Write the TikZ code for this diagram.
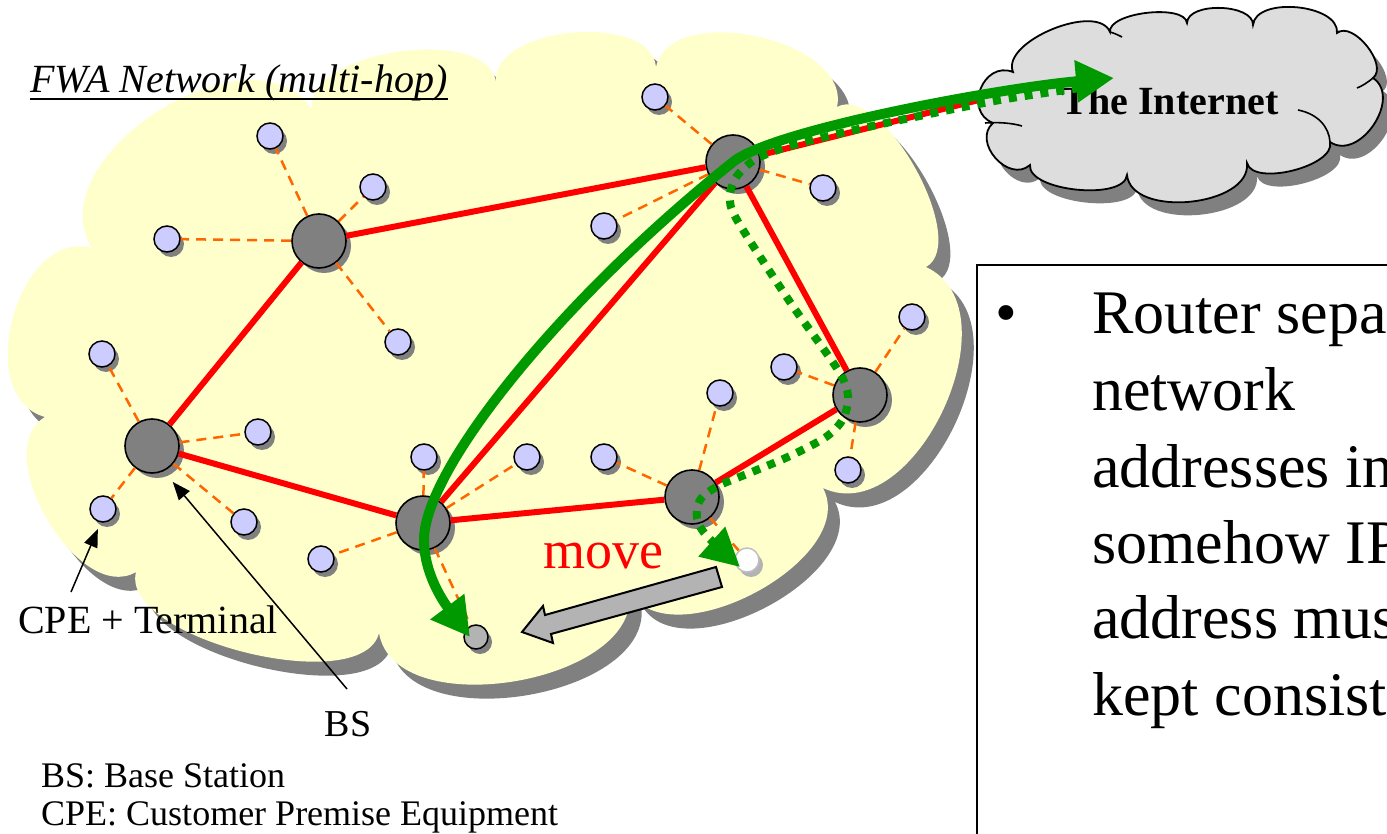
\documentclass[tikz,border=0pt]{standalone}
\usepackage{fontspec}
\setmainfont{Liberation Serif}
\usetikzlibrary{arrows.meta,shadows}

\definecolor{fwayellow}{HTML}{FFFFCC}
\definecolor{dropgray}{HTML}{808080}
\definecolor{cpefill}{HTML}{CCCCFF}
\definecolor{bsfill}{HTML}{808080}
\definecolor{linkred}{HTML}{FF0000}
\definecolor{wireorange}{HTML}{FF6600}
\definecolor{pathgreen}{HTML}{009900}
\definecolor{movegray}{HTML}{B3B3B3}
\definecolor{netgray}{HTML}{DDDDDD}
\definecolor{ghost}{HTML}{C0C0C0}

% outline of the FWA cloud (cusps joined by bulging lobes)
\newcommand{\fwaoutline}{(45,417)
 to[bend left=90,looseness=1.12] (92,248)
 to[bend left=90,looseness=1.06] (312,110)
 to[bend left=90,looseness=0.82] (496,82)
 to[bend left=90,looseness=0.89] (656,67)
 to[bend left=90,looseness=0.95] (837,107)
 to[bend left=90,looseness=0.72] (926,267)
 to[bend left=90,looseness=1.06] (823,488)
 to[bend left=90,looseness=0.95] (629,590)
 to[bend left=90,looseness=0.95] (379,633)
 to[bend left=90,looseness=0.70] (136,572)
 to[bend left=90,looseness=0.95] (45,417) -- cycle}

% outline of the Internet cloud
\newcommand{\inetoutline}{(1013,72)
 to[bend left=90,looseness=0.80] (1110,32)
 to[bend left=90,looseness=0.65] (1187,23)
 to[bend left=90,looseness=0.83] (1253,25)
 to[bend left=90,looseness=0.88] (1337,33)
 to[bend left=90,looseness=0.90] (1373,78)
 to[bend left=90,looseness=1.18] (1330,142)
 to[bend left=90,looseness=0.74] (1247,163)
 to[bend left=90,looseness=0.93] (1127,175)
 to[bend left=90,looseness=0.69] (1030,165)
 to[bend left=90,looseness=1.30] (993,123)
 to[bend left=90,looseness=1.50] (1013,72) -- cycle}

\begin{document}
\begin{tikzpicture}[x=1pt,y=-1pt,
  bsnode/.style={circle, draw=black, line width=1.6pt, fill=bsfill,
    minimum size=54pt, inner sep=0pt,
    drop shadow={shadow xshift=5pt, shadow yshift=-5pt, fill=dropgray, opacity=1}},
  cpenode/.style={circle, draw=black, line width=1.5pt, fill=cpefill,
    minimum size=26pt, inner sep=0pt,
    drop shadow={shadow xshift=4pt, shadow yshift=-5pt, fill=dropgray, opacity=1}},
  movednode/.style={cpenode, fill=movegray, minimum size=24pt},
  ghostnode/.style={circle, draw=ghost, line width=1.5pt, fill=white,
    minimum size=24pt, inner sep=0pt,
    drop shadow={shadow xshift=4pt, shadow yshift=-5pt, fill=movegray, opacity=1}},
  wire/.style={draw=wireorange, line width=2.5pt, dash pattern=on 10pt off 7pt},
  link/.style={draw=linkred, line width=6pt},
  route/.style={draw=pathgreen, line width=10pt,
    {Triangle[length=38pt,width=40pt]}-{Triangle[length=38pt,width=40pt]}},
  altroute/.style={draw=pathgreen, line width=8pt, dash pattern=on 8pt off 8pt,
    -{Triangle[length=38pt,width=38pt]}},
  callout/.style={draw=black, line width=1.5pt, -{Triangle[length=18pt,width=14pt]}},
  lbl/.style={inner sep=0pt, font=\fontsize{40}{48}\selectfont},
  bodytext/.style={inner sep=0pt, anchor=base west, font=\fontsize{62}{74}\selectfont}
]
\useasboundingbox (0,0) rectangle (1387,834);
\clip (0,0) rectangle (1387,834);

% FWA cloud with its shadow
\fill[dropgray, shift={(12,14)}] \fwaoutline;
\fill[fwayellow] \fwaoutline;

% base stations
\node[bsnode] (B1) at (319,241) {};
\node[bsnode] (B2) at (152,446) {};
\node[bsnode] (B3) at (423,523) {};
\node[bsnode] (B4) at (733,162) {};
\node[bsnode] (B5) at (860,395) {};
\node[bsnode] (B6) at (692,497) {};

% customer premise equipment
\node[cpenode] (c1)  at (270,136) {};
\node[cpenode] (c2)  at (373,187) {};
\node[cpenode] (c3)  at (167,239) {};
\node[cpenode] (c4)  at (398,342) {};
\node[cpenode] (c5)  at (102,354) {};
\node[cpenode] (c6)  at (258,432) {};
\node[cpenode] (c7)  at (103,509) {};
\node[cpenode] (c8)  at (244,522) {};
\node[cpenode] (c9)  at (321,559) {};
\node[cpenode] (c10) at (424,457) {};
\node[cpenode] (c11) at (527,457) {};
\node[cpenode] (c12) at (604,457) {};
\node[cpenode] (c13) at (720,393) {};
\node[cpenode] (c14) at (784,367) {};
\node[cpenode] (c15) at (912,317) {};
\node[cpenode] (c16) at (848,470) {};
\node[cpenode] (c17) at (823,188) {};
\node[cpenode] (c18) at (604,226) {};
\node[cpenode] (c19) at (655,97)  {};
\node[movednode] (mv) at (476,637) {};
\node[ghostnode] (wt) at (747,560) {};

% radio access links
\foreach \s/\t in {B1/c1,B1/c2,B1/c3,B1/c4,B2/c5,B2/c6,B2/c7,B2/c8,
                   B3/c9,B3/c10,B3/c11,B3/mv,B6/c12,B6/c13,B6/wt,
                   B5/c14,B5/c15,B5/c16,B4/c17,B4/c18,B4/c19}
  \draw[wire] (\s) -- (\t);

% backbone links between base stations
\coordinate (inetport) at (979,100);
\foreach \s/\t in {B1/B2,B1/B4,B2/B3,B3/B4,B3/B6,B6/B5,B5/B4}
  \draw[link] (\s) -- (\t);
\draw[link] (B4) -- (inetport);

% the Internet
\fill[dropgray, shift={(10,13)}] \inetoutline;
\filldraw[fill=netgray, draw=black, line width=1.8pt] \inetoutline;
\draw[line width=1.6pt] (1298,110) .. controls (1318,114) and (1329,127) .. (1330,142);
\draw[line width=1.6pt] (985,123) .. controls (998,122) and (1012,123) .. (1022,126);
\draw[line width=1.6pt] (1373,78) .. controls (1367,83) and (1362,86) .. (1357,88);
\draw[line width=1.6pt] (1110,32) .. controls (1114,33) and (1118,35) .. (1122,37);
\node[inner sep=0pt, anchor=base, font=\bfseries\fontsize{40}{48}\selectfont] (inet) at (1170,115) {The Internet};

% route before and after the move
\draw[altroute] plot[smooth, tension=0.5] coordinates {(1080,88) (1000,100) (910,118) (850,131) (790,146) (756,159) (737,176) (730,196) (737,220) (790,302) (838,370) (848,396) (843,419) (826,437) (790,456) (752,472) (718,486) (700,500) (697,518) (706,535) (740,567)};
\coordinate (rtstart) at (470,637);
\coordinate (rtbend) at (424,540);
\coordinate (rtend) at (1114,78);
\draw[route] (rtstart) .. controls (452,613) and (424,580) .. (rtbend)
  .. controls (424,470) and (560,300) .. (B4.center)
  .. controls (772,130) and (1000,88) .. (rtend);

% movement of the terminal
\filldraw[fill=movegray, draw=black, line width=2pt]
  (716,567) -- (722,587) -- (551,634) -- (553,643) -- (522,632)
  -- (543,606) -- (545,615) -- cycle;
\node[inner sep=0pt, anchor=base, text=linkred, font=\fontsize{54}{64}\selectfont] (mvlbl) at (603,568) {move};

% labels
\node[inner sep=0pt, anchor=base west, font=\itshape\fontsize{40}{48}\selectfont] (fwa) at (30,93) {FWA Network (multi-hop)};
\draw[line width=2.5pt] ([yshift=-6pt]fwa.base west) -- ([yshift=-6pt]fwa.base east);

\node[lbl, anchor=base west] (cpelbl) at (18,633) {CPE + Terminal};
\node[lbl, anchor=base, font=\fontsize{38}{46}\selectfont] (bslbl) at (348,736) {BS};
\coordinate (cpetail) at (71,592);
\coordinate (bstail) at (347,689);
\draw[callout, shorten >=7pt] (cpetail) -- (c7.-100);
\draw[callout, shorten >=14pt] (bstail) -- (B2.-65);

\node[inner sep=0pt, anchor=base west, font=\fontsize{36}{43}\selectfont] (leg1) at (41,787) {BS: Base Station};
\node[inner sep=0pt, anchor=base west, font=\fontsize{36}{43}\selectfont] (leg2) at (41,825) {CPE: Customer Premise Equipment};

% note box
\draw[line width=2pt] (977,265) rectangle (1410,860);
\node[inner sep=0pt, anchor=base, font=\fontsize{62}{74}\selectfont] (bul) at (1006,334) {•};
\node[bodytext] (t1) at (1092,334) {Router separates};
\node[bodytext] (t2) at (1092,410) {network};
\node[bodytext] (t3) at (1092,487) {addresses in};
\node[bodytext] (t4) at (1092,563) {somehow IP};
\node[bodytext] (t5) at (1092,638) {address must};
\node[bodytext] (t6) at (1092,715) {kept consistent};
\end{tikzpicture}
\end{document}
